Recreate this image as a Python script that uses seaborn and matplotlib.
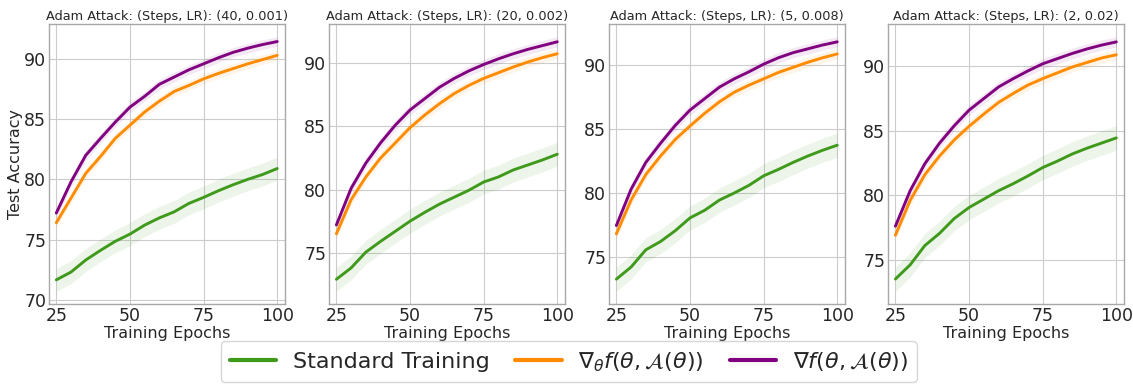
import numpy as np
import pandas as pd
import matplotlib
matplotlib.use("Agg")
import matplotlib.pyplot as plt
import seaborn as sns

epochs = [25, 30, 35, 40, 45, 50, 55, 60, 65, 70, 75, 80, 85, 90, 95, 100]

titles = [
    "Adam Attack: (Steps, LR): (40, 0.001)",
    "Adam Attack: (Steps, LR): (20, 0.002)",
    "Adam Attack: (Steps, LR): (5, 0.008)",
    "Adam Attack: (Steps, LR): (2, 0.02)",
]

standard = [
    [71.65, 72.3, 73.3, 74.1, 74.85, 75.45, 76.2, 76.8, 77.3, 78.0, 78.5, 79.05, 79.55, 80.0, 80.4, 80.9],
    [72.9, 73.8, 75.05, 75.9, 76.7, 77.5, 78.2, 78.85, 79.4, 79.95, 80.6, 81.0, 81.55, 81.95, 82.35, 82.8],
    [73.25, 74.2, 75.55, 76.2, 77.05, 78.05, 78.65, 79.45, 80.0, 80.6, 81.35, 81.85, 82.4, 82.9, 83.35, 83.75],
    [73.5, 74.6, 76.1, 77.05, 78.2, 79.05, 79.7, 80.35, 80.9, 81.5, 82.15, 82.65, 83.2, 83.65, 84.05, 84.45],
]
grad_theta = [
    [76.4, 78.45, 80.5, 81.9, 83.4, 84.5, 85.6, 86.5, 87.3, 87.8, 88.35, 88.8, 89.2, 89.6, 89.95, 90.3],
    [76.5, 79.2, 81.0, 82.5, 83.7, 84.9, 85.9, 86.8, 87.6, 88.25, 88.8, 89.25, 89.7, 90.1, 90.45, 90.75],
    [76.8, 79.45, 81.45, 82.9, 84.2, 85.25, 86.25, 87.15, 87.9, 88.45, 88.95, 89.45, 89.85, 90.25, 90.6, 90.9],
    [76.9, 79.6, 81.6, 83.05, 84.3, 85.35, 86.3, 87.2, 87.9, 88.55, 89.05, 89.5, 89.95, 90.3, 90.65, 90.9],
]
grad_total = [
    [77.2, 79.8, 82.0, 83.4, 84.75, 86.0, 86.9, 87.9, 88.5, 89.1, 89.6, 90.1, 90.55, 90.9, 91.2, 91.45],
    [77.2, 80.1, 82.1, 83.7, 85.1, 86.3, 87.2, 88.1, 88.8, 89.4, 89.9, 90.35, 90.75, 91.1, 91.4, 91.7],
    [77.45, 80.3, 82.4, 83.9, 85.3, 86.5, 87.4, 88.3, 88.95, 89.5, 90.1, 90.6, 91.0, 91.3, 91.6, 91.85],
    [77.6, 80.35, 82.45, 84.05, 85.4, 86.6, 87.5, 88.4, 89.05, 89.65, 90.2, 90.6, 91.0, 91.35, 91.65, 91.9],
]

# half-width of the shaded band for each method
spread = {"standard": 0.95, "theta": 0.4, "total": 0.4}

labels = ["Standard Training",
          r"$\nabla_\theta f(\theta, \mathcal{A}(\theta))$",
          r"$\nabla f(\theta, \mathcal{A}(\theta))$"]
colors = ["#3f9a1c", "#ff8c00", "#800080"]

sns.set_style("whitegrid", {"axes.edgecolor": "#a8a8a8", "grid.color": "#cccccc"})
plt.rcParams["font.family"] = ["DejaVu Sans"]

fig = plt.figure(figsize=(11.33, 3.84), dpi=100)
lefts = [0.0432, 0.2904, 0.5375, 0.7838]
axes = [fig.add_axes([l, 0.2083, 0.208, 0.7292]) for l in lefts]

for i, ax in enumerate(axes):
    series = [(standard[i], spread["standard"]), (grad_theta[i], spread["theta"]), (grad_total[i], spread["total"])]
    for (vals, sd), lab, col in zip(series, labels, colors):
        df = pd.DataFrame({"epoch": epochs, "acc": vals})
        lo = np.array(vals) - sd
        hi = np.array(vals) + sd
        ax.fill_between(epochs, lo, hi, color=col, alpha=0.09, linewidth=0)
        sns.lineplot(data=df, x="epoch", y="acc", ax=ax, color=col, linewidth=2.1, label=lab, legend=False)
    ax.set_title(titles[i], fontsize=9.3, pad=3)
    ax.set_xlabel("Training Epochs", fontsize=11.5, labelpad=1)
    ax.set_ylabel("Test Accuracy" if i == 0 else "", fontsize=11.5, labelpad=1)
    ax.set_xticks([25, 50, 75, 100])
    ax.set_yticks([70, 75, 80, 85, 90])
    ax.set_xlim(22.5, 102.5)
    ax.tick_params(labelsize=12.5, pad=2, length=0)
    lo_all = min(standard[i]) - spread["standard"]
    hi_all = max(grad_total[i]) + spread["total"]
    rng = hi_all - lo_all
    ax.set_ylim(lo_all - 0.05 * rng, hi_all + 0.05 * rng)
    for s in ax.spines.values():
        s.set_linewidth(1.0)

handles, labs = axes[0].get_legend_handles_labels()
leg = fig.legend(handles, labs, loc="lower center", bbox_to_anchor=(0.502, -0.025), ncol=3,
                 fontsize=16, frameon=True, handlelength=2.1, handletextpad=0.75,
                 columnspacing=1.15)
for h in leg.get_lines():
    h.set_linewidth(3)

fig.savefig("out.png", dpi=100)
